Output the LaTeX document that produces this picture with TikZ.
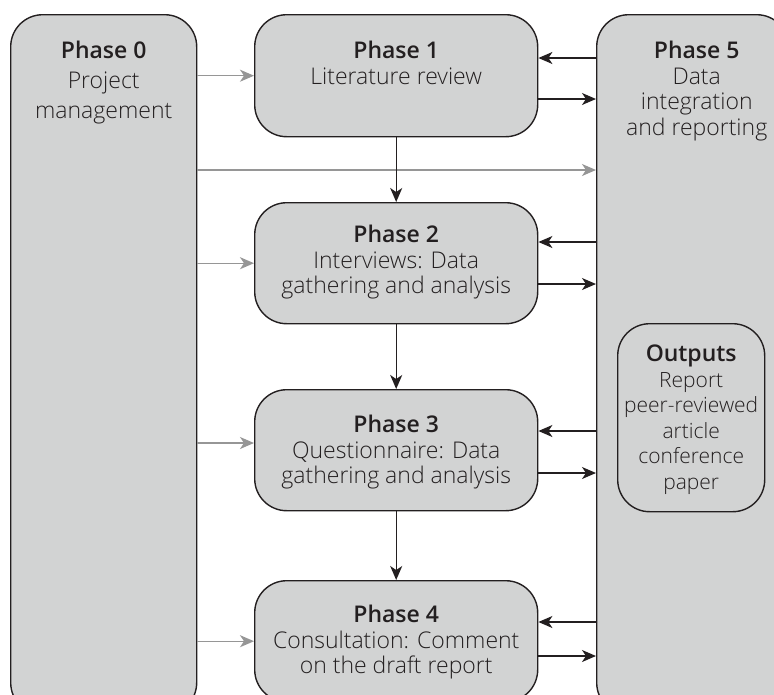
\documentclass[tikz,border=0pt]{standalone}
\usepackage{fontspec}
\setmainfont{Open Sans}[UprightFont=* Light, BoldFont=* Semibold]
\usepackage{tikz}
\usetikzlibrary{arrows.meta,positioning}
\definecolor{boxgray}{RGB}{210,211,211}
\definecolor{inkgray}{RGB}{35,31,32}
\definecolor{linkgray}{RGB}{150,150,150}
\tikzset
{
    phasebox/.style = {draw=inkgray, fill=boxgray, line width=1.4pt, rounded corners=32pt, anchor=north west, inner sep=0pt, minimum width=283pt, minimum height=121pt},
    sidebox/.style  = {phasebox, minimum height=700pt},
    phasetext/.style = {align=center, inner sep=0pt, text=inkgray, font=\fontsize{23}{25.5}\selectfont},
    flow/.style = {draw=inkgray, line width=1.4pt, -{Stealth[length=14pt, width=12pt, inset=4pt]}},
    feed/.style = {flow, draw=linkgray, fill=linkgray}
}
\begin{document}
\begin{tikzpicture}[x=1pt, y=-1pt]
\useasboundingbox (0,0) rectangle (774,694);
\clip (0,0) rectangle (774,694);
% side columns
\node[sidebox, minimum width=186pt] (p0) at (10,14) {};
\node[sidebox, minimum width=192pt] (p5) at (596,14) {};
\node[phasebox, minimum width=147pt, minimum height=188pt] (out) at (617,323) {};
% phases
\node[phasebox, minimum height=122pt] (p1) at (254,14) {};
\node[phasebox] (p2) at (254,202) {};
\node[phasebox] (p3) at (254,389) {};
\node[phasebox] (p4) at (254,580) {};
% texts
\node[phasetext, font=\fontsize{23}{30}\selectfont, below=27pt of p0.north] (t0) {\textbf{Phase 0}\\Project\\management};
\node[phasetext, below=27pt of p5.north, xshift=4pt] (t5) {\textbf{Phase 5}\\Data\\integration\\and reporting};
\node[phasetext, font=\fontsize{21}{25.5}\selectfont, below=22pt of out.north] (tout) {\textbf{\fontsize{23}{25.5}\selectfont Outputs}\\Report\\peer-reviewed\\article\\conference\\paper};
\node[phasetext, below=27pt of p1.north] (t1) {\textbf{Phase 1}\\Literature review};
\node[phasetext, below=23pt of p2.north] (t2) {\textbf{Phase 2}\\Interviews: Data\\gathering and analysis};
\node[phasetext, below=26pt of p3.north] (t3) {\textbf{Phase 3}\\Questionnaire: Data\\gathering and analysis};
\node[phasetext, below=25pt of p4.north] (t4) {\textbf{Phase 4}\\Consultation: Comment\\on the draft report};
% phase 0 feeds
\draw[feed] (p0.east |- p1.west) -- (p1.west);
\draw[feed] (p0.east |- 0,170) -- (p5.west |- 0,170);
\draw[feed] (p0.east |- p2.west) -- (p2.west);
\draw[feed] (p0.east |- 0,443) -- (p3.west |- 0,443);
\draw[feed] (p0.east |- p4.west) -- (p4.west);
% down the phases
\draw[flow] (p1.south) -- (p2.north);
\draw[flow] (p2.south) -- (p3.north);
\draw[flow] (p3.south) -- (p4.north);
% to and from phase 5
\draw[flow] (p5.west |- 0,58) -- (p1.east |- 0,58);
\draw[flow] (p1.east |- 0,99) -- (p5.west |- 0,99);
\draw[flow] (p5.west |- 0,242) -- (p2.east |- 0,242);
\draw[flow] (p2.east |- 0,284) -- (p5.west |- 0,284);
\draw[flow] (p5.west |- 0,431) -- (p3.east |- 0,431);
\draw[flow] (p3.east |- 0,473) -- (p5.west |- 0,473);
\draw[flow] (p5.west |- 0,622) -- (p4.east |- 0,622);
\draw[flow] (p4.east |- 0,656) -- (p5.west |- 0,656);
\end{tikzpicture}
\end{document}
